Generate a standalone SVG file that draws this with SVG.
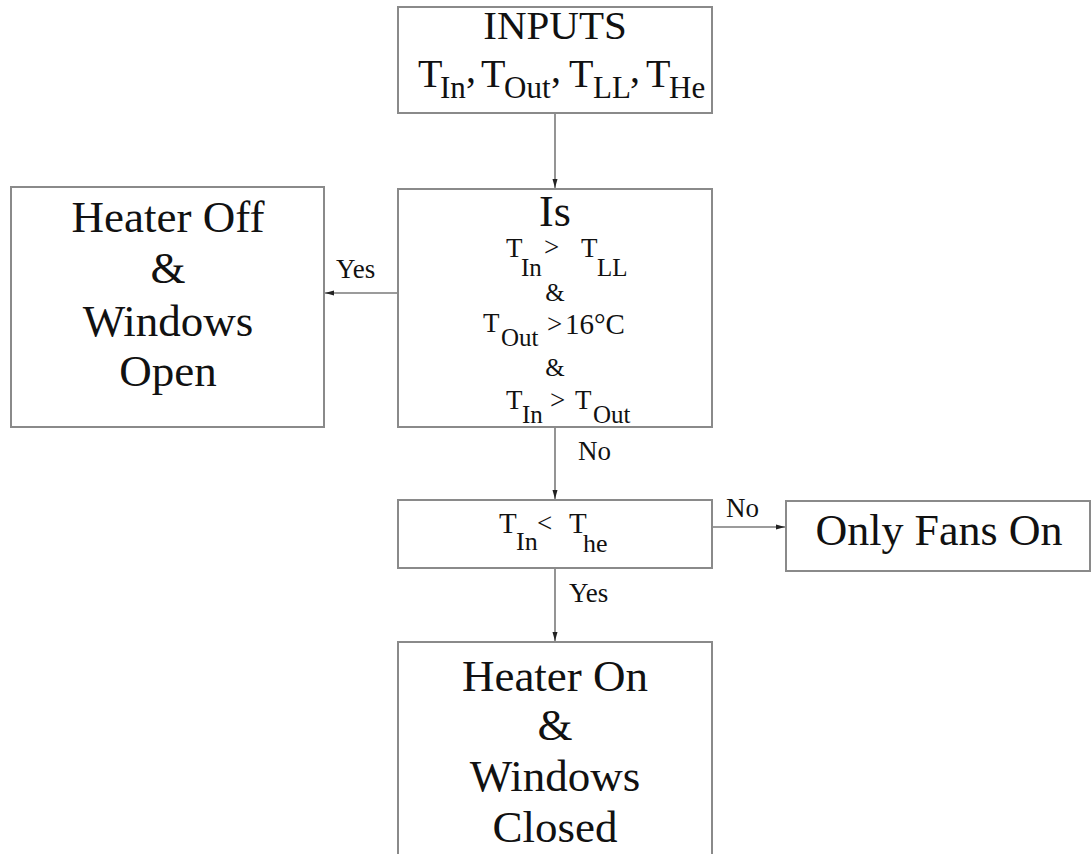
<svg xmlns="http://www.w3.org/2000/svg" width="1091" height="854" viewBox="0 0 1091 854" font-family="Liberation Serif, Times New Roman, Times, Nimbus Roman, Noto Serif, DejaVu Serif, serif">
<defs>
<marker id="ah" markerWidth="10" markerHeight="8" refX="9" refY="4" orient="auto" markerUnits="userSpaceOnUse">
<path d="M0,1.5 L9,4 L0,6.5 Z" fill="#222"/>
</marker>
<style>
.box{fill:#fff;stroke:#8a8a8a;stroke-width:2}
.ln{fill:none;stroke:#7a7a7a;stroke-width:1.6}
text{fill:#111}
.big{font-size:45px}
.lab{font-size:27px}
</style>
</defs>
<rect width="1091" height="854" fill="#fff"/>
<g id="connectors">
<line class="ln" x1="555" y1="113" x2="555" y2="188" marker-end="url(#ah)"/>
<line class="ln" x1="398" y1="293" x2="325" y2="293" marker-end="url(#ah)"/>
<line class="ln" x1="555" y1="427" x2="555" y2="499" marker-end="url(#ah)"/>
<line class="ln" x1="712" y1="527" x2="785" y2="527" marker-end="url(#ah)"/>
<line class="ln" x1="555" y1="568" x2="555" y2="641" marker-end="url(#ah)"/>
<text class="lab" x="336" y="278">Yes</text>
<text class="lab" x="578" y="460">No</text>
<text class="lab" x="726" y="517">No</text>
<text class="lab" x="569" y="602">Yes</text>
</g>
<g id="inputs">
<rect class="box" x="398" y="7" width="314" height="106"/>
<text x="555" y="39" font-size="41" text-anchor="middle">INPUTS</text>
<text font-size="40" x="418" y="87">T</text><text font-size="31" x="440" y="98">In</text><text font-size="40" x="466" y="82">,</text>
<text font-size="40" x="481" y="87">T</text><text font-size="31" x="504" y="98">Out</text><text font-size="40" x="551" y="82">,</text>
<text font-size="40" x="569" y="87">T</text><text font-size="31" x="593" y="98">LL</text><text font-size="40" x="630" y="82">,</text>
<text font-size="40" x="646" y="87">T</text><text font-size="31" x="669" y="98">He</text>
</g>
<g id="decision1">
<rect class="box" x="398" y="189" width="314" height="238"/>
<text x="555" y="226" font-size="44" text-anchor="middle">Is</text>
<text font-size="27" x="506" y="257">T</text><text font-size="25" x="521" y="276">In</text><text font-size="27" x="544" y="256">&gt;</text>
<text font-size="27" x="581" y="257">T</text><text font-size="25" x="597" y="276">LL</text>
<text font-size="25" x="555" y="301" text-anchor="middle">&amp;</text>
<text font-size="27" x="483" y="332">T</text><text font-size="25" x="501" y="346">Out</text><text font-size="27" x="547" y="333">&gt;</text><text font-size="29" x="565" y="334">16°C</text>
<text font-size="25" x="555" y="376" text-anchor="middle">&amp;</text>
<text font-size="27" x="506" y="409">T</text><text font-size="25" x="522" y="423">In</text><text font-size="27" x="550" y="409">&gt;</text>
<text font-size="27" x="575" y="409">T</text><text font-size="25" x="593" y="423">Out</text>
</g>
<g id="heater-off">
<rect class="box" x="11" y="187" width="313" height="240"/>
<text class="big" x="168" y="232" text-anchor="middle">Heater Off</text>
<text class="big" x="168" y="283" text-anchor="middle">&amp;</text>
<text class="big" x="168" y="336" text-anchor="middle">Windows</text>
<text class="big" x="168" y="386" text-anchor="middle">Open</text>
</g>
<g id="decision2">
<rect class="box" x="398" y="500" width="314" height="68"/>
<text font-size="29" x="499" y="533">T</text><text font-size="26" x="516" y="550">In</text><text font-size="27" x="537" y="532">&lt;</text>
<text font-size="29" x="569" y="533">T</text><text font-size="26" x="583" y="552">he</text>
</g>
<g id="fans">
<rect class="box" x="786" y="501" width="304" height="70"/>
<text x="939" y="545" font-size="44" text-anchor="middle">Only Fans On</text>
</g>
<g id="heater-on">
<rect class="box" x="398" y="642" width="314" height="240"/>
<text class="big" x="555" y="691" text-anchor="middle">Heater On</text>
<text class="big" x="555" y="740" text-anchor="middle">&amp;</text>
<text class="big" x="555" y="791" text-anchor="middle">Windows</text>
<text class="big" x="555" y="842" text-anchor="middle">Closed</text>
</g>
</svg>
